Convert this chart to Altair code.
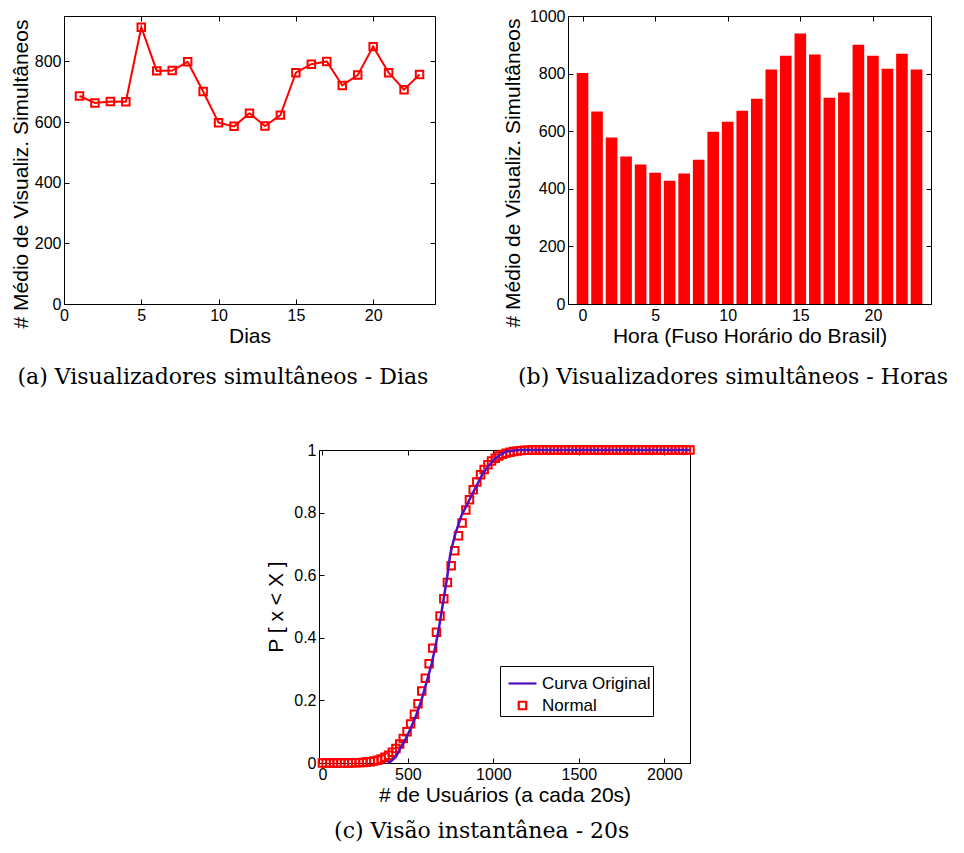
import altair as alt
import pandas as pd

# ---------------- data ----------------
days = [1, 2, 3, 4, 5, 6, 7, 8, 9, 10, 11, 12, 13, 14, 15, 16, 17, 18, 19, 20, 21, 22, 23]
views_day = [686, 663, 668, 667, 913, 769, 770, 799, 701, 598, 586, 629, 587, 623,
             763, 791, 800, 721, 755, 849, 763, 707, 757]

hours = [0, 1, 2, 3, 4, 5, 6, 7, 8, 9, 10, 11, 12, 13, 14, 15, 16, 17, 18, 19, 20, 21, 22, 23]
views_hour = [802, 668, 578, 512, 484, 456, 428, 453, 501, 598, 633, 671, 713, 814,
              862, 939, 866, 716, 734, 900, 862, 817, 869, 814]

x_norm = [0, 22, 43, 65, 86, 108, 129, 151, 172, 194, 215, 237, 258, 280, 301, 323, 344,
          366, 387, 409, 430, 452, 473, 495, 516, 538, 559, 581, 602, 624, 645, 667, 688,
          710, 731, 753, 774, 796, 817, 839, 860, 882, 903, 925, 946, 968, 989, 1011, 1032,
          1054, 1075, 1097, 1118, 1140, 1161, 1183, 1204, 1226, 1247, 1269, 1290, 1312,
          1333, 1355, 1376, 1398, 1419, 1441, 1462, 1484, 1505, 1527, 1548, 1570, 1591,
          1613, 1634, 1656, 1677, 1699, 1720, 1742, 1763, 1785, 1806, 1828, 1849, 1871,
          1892, 1914, 1935, 1957, 1978, 2000, 2021, 2043, 2064, 2086, 2107, 2129, 2150]
p_norm = [0.0, 0.0, 0.0, 0.0, 0.0, 0.0, 0.0, 0.0,
          0.0005, 0.0008, 0.0012, 0.0019, 0.0029, 0.0043, 0.0064, 0.0091, 0.013, 0.018,
          0.025, 0.034, 0.046, 0.061, 0.078, 0.100, 0.125, 0.156, 0.189, 0.230,
          0.271, 0.317, 0.367, 0.418, 0.470, 0.525, 0.577, 0.630, 0.678, 0.726,
          0.767, 0.808, 0.841, 0.873, 0.898, 0.921, 0.938, 0.953, 0.965, 0.974,
          0.981, 0.986, 0.990, 0.993, 0.995, 0.997, 0.998, 0.999, 0.999,
          1.0, 1.0, 1.0, 1.0, 1.0, 1.0, 1.0, 1.0, 1.0, 1.0, 1.0, 1.0, 1.0, 1.0, 1.0,
          1.0, 1.0, 1.0, 1.0, 1.0, 1.0, 1.0, 1.0, 1.0, 1.0, 1.0, 1.0, 1.0, 1.0, 1.0,
          1.0, 1.0, 1.0, 1.0, 1.0, 1.0, 1.0, 1.0, 1.0, 1.0, 1.0, 1.0, 1.0, 1.0]

x_orig = [381, 400, 430, 460, 490, 520, 550, 579, 610, 639, 660, 679, 708, 730, 748, 777,
          813, 857, 896, 936, 996, 1040, 1075, 1150, 2150]
p_orig = [0.0, 0.005, 0.02, 0.051, 0.08, 0.115, 0.155, 0.20, 0.26, 0.317, 0.37, 0.423,
          0.52, 0.595, 0.668, 0.732, 0.79, 0.838, 0.88, 0.923, 0.966, 0.985, 0.995, 1.0, 1.0]

assert len(x_norm) == len(p_norm)

# ---------------- styling ----------------
RED = "#FF0000"
PURPLE = "#5010C0"
SANS = "Liberation Sans"
SERIF = "DejaVu Serif"


def ax(orient, values, title_text=None, fmt="d", labels=True, tpad=6, tx=None, ty=None):
    kw = dict(orient=orient, values=values, offset=-5, tickSize=5, tickWidth=1,
              tickColor="black", domain=False, grid=False, labels=labels,
              labelFont=SANS, labelFontSize=16, labelColor="black", labelPadding=3,
              labelFlush=False, labelOverlap=False, format=fmt,
              titleFont=SANS, titleFontSize=21, titleFontWeight="normal",
              titleColor="black", titlePadding=tpad)
    if title_text is not None:
        kw["title"] = title_text
    if tx is not None:
        kw["titleX"] = tx
        kw["titleY"] = ty
        kw["titleBaseline"] = "alphabetic"
        kw["titleAngle"] = 270
        kw["titleAlign"] = "center"
    return alt.Axis(**kw)


def caption(text, dx=0, offset=21):
    return alt.TitleParams(text=text, orient="bottom", font=SERIF, fontSize=22,
                           fontWeight="normal", color="black", frame="bounds",
                           anchor="middle", offset=offset, dx=dx)


YTITLE = "# Médio de Visualiz. Simultâneos"

# ---------------- panel (a) ----------------
df_a = pd.DataFrame({"dia": days, "v": views_day})
xs_a = alt.Scale(domain=[0, 24], nice=False)
ys_a = alt.Scale(domain=[0, 950], nice=False)
yt_a = [0, 200, 400, 600, 800]
xt_a = [0, 5, 10, 15, 20]

line_a = alt.Chart(df_a).mark_line(color=RED, strokeWidth=2).encode(
    x=alt.X("dia:Q", scale=xs_a, axis=ax("bottom", xt_a, "Dias", tpad=2)),
    y=alt.Y("v:Q", scale=ys_a, axis=ax("left", yt_a, YTITLE, tx=-41.7, ty=157.5)),
)
pts_a = alt.Chart(df_a).mark_point(shape="square", filled=False, color=RED,
                                   strokeWidth=2, size=56, opacity=1).encode(
    x=alt.X("dia:Q", scale=xs_a, axis=ax("top", xt_a, labels=False), title=None),
    y=alt.Y("v:Q", scale=ys_a, axis=ax("right", yt_a, labels=False), title=None),
)
panel_a = alt.layer(line_a, pts_a).resolve_axis(x="independent", y="independent").properties(
    width=371, height=288, title=caption("(a) Visualizadores simultâneos - Dias"))

# ---------------- panel (b) ----------------
df_b = pd.DataFrame({"hora": hours, "v": views_hour})
xs_b = alt.Scale(domain=[-1, 24], nice=False, zero=False)
ys_b = alt.Scale(domain=[0, 1000], nice=False)
yt_b = [0, 200, 400, 600, 800, 1000]
xt_b = [0, 5, 10, 15, 20]

base_b = alt.Chart(df_b).transform_calculate(
    x0="datum.hora - 0.4", x1="datum.hora + 0.4")
bars_b = base_b.mark_rect(color=RED).encode(
    x=alt.X("x0:Q", scale=xs_b, axis=ax("bottom", xt_b, "Hora (Fuso Horário do Brasil)", tpad=2)),
    x2="x1:Q",
    y=alt.Y("v:Q", scale=ys_b, axis=ax("left", yt_b, YTITLE, tx=-53.4, ty=156.5)),
    y2=alt.datum(0),
)
frame_b = base_b.mark_rect(color=RED, opacity=0).encode(
    x=alt.X("x0:Q", scale=xs_b, axis=ax("top", xt_b, labels=False), title=None),
    x2="x1:Q",
    y=alt.Y("v:Q", scale=ys_b, axis=ax("right", yt_b, labels=False), title=None),
    y2=alt.datum(0),
)
panel_b = alt.layer(bars_b, frame_b).resolve_axis(x="independent", y="independent").properties(
    width=363, height=288, title=caption("(b) Visualizadores simultâneos - Horas", dx=16))

# ---------------- panel (c) ----------------
df_norm = pd.DataFrame({"x": x_norm, "p": p_norm, "serie": "Normal"})
df_orig = pd.DataFrame({"x": x_orig, "p": p_orig})
xs_c = alt.Scale(domain=[-20, 2150], nice=False, zero=False)
ys_c = alt.Scale(domain=[0, 1], nice=False)
yt_c = [0, 0.2, 0.4, 0.6, 0.8, 1]
xt_c = [0, 500, 1000, 1500, 2000]
names = ["Curva Original", "Normal"]

leg = alt.Legend(title=None, orient="none", legendX=181, legendY=216,
                 labelFont=SANS, labelFontSize=17, labelColor="black",
                 strokeColor="black", fillColor="white", padding=2,
                 rowPadding=4, labelOffset=4, symbolOffset=5, symbolStrokeWidth=2.2,
                 symbolFillColor="transparent")

pts_c = alt.Chart(df_norm).mark_point(filled=False, strokeWidth=2, opacity=1).encode(
    x=alt.X("x:Q", scale=xs_c, axis=ax("bottom", xt_c, "# de Usuários (a cada 20s)", tpad=2)),
    y=alt.Y("p:Q", scale=ys_c, axis=ax("left", yt_c, "P [ x < X ]", fmt="~g", tpad=7)),
    color=alt.Color("serie:N", scale=alt.Scale(domain=names, range=[PURPLE, RED]), legend=leg),
    shape=alt.Shape("serie:N", scale=alt.Scale(domain=names, range=["stroke", "square"]), legend=leg),
    size=alt.Size("serie:N", scale=alt.Scale(domain=names, range=[784, 56]), legend=leg),
)
line_c = alt.Chart(df_orig).mark_line(color=PURPLE, strokeWidth=2.5).encode(
    x=alt.X("x:Q", scale=xs_c, axis=ax("top", xt_c, labels=False), title=None),
    y=alt.Y("p:Q", scale=ys_c, axis=ax("right", yt_c, labels=False), title=None),
)
panel_c = alt.layer(pts_c, line_c).resolve_axis(x="independent", y="independent").properties(
    width=371, height=313, title=caption("(c) Visão instantânea - 20s", offset=16))

spacer = alt.Chart(pd.DataFrame({"s": [0]})).mark_point(opacity=0).properties(
    width=200, height=10, view=alt.ViewBackground(stroke="transparent"))

top = alt.hconcat(panel_a, panel_b, spacing=66)
bottom = alt.hconcat(spacer, panel_c, spacing=0).resolve_legend(
    color="independent", shape="independent", size="independent")
chart = alt.vconcat(top, bottom, spacing=52).resolve_legend(
    color="independent", shape="independent", size="independent"
).properties(
    padding={"left": 1, "top": -1, "right": 0, "bottom": 0},
    background="white",
).configure_view(stroke="black", strokeWidth=1)

chart.save("out.html", embed_options={"renderer": "svg", "actions": False})
